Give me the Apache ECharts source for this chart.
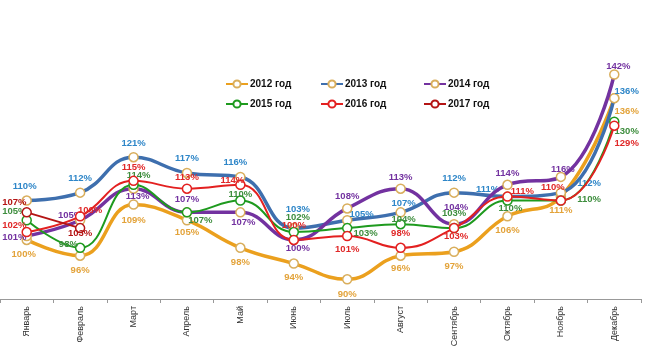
<!DOCTYPE html>
<html><head><meta charset="utf-8">
<script src="https://cdn.jsdelivr.net/npm/echarts@6/dist/echarts.min.js"></script>
<style>html,body{margin:0;padding:0;background:#fff}#c{width:661px;height:360px}</style>
</head><body><div id="c"></div>
<script>
const months = ['Январь','Февраль','Март','Апрель','Май','Июнь','Июль','Август','Сентябрь','Октябрь','Ноябрь','Декабрь'];
const names = ['2012 год','2013 год','2014 год','2015 год','2016 год','2017 год'];
const y2012 = [100, 96, 109, 105, 98, 94, 90, 96, 97, 106, 111, 136];
const y2013 = [110, 112, 121, 117, 116, 103, 105, 107, 112, 111, 112, 136];
const y2014 = [101, 105, 113, 107, 107, 100, 108, 113, 104, 114, 116, 142];
const y2015 = [105, 98, 114, 107, 110, 102, 103, 104, 103, 110, 110, 130];
const y2016 = [102, 106, 115, 113, 114, 100, 101, 98, 103, 111, 110, 129];
const y2017 = [107, 103];

// label placement per point: [position, dx, dy]
const lab2012 = [['bottom',-3,0],['bottom',0,0],['bottom',0,2],['bottom',0,-2],['bottom',0,0],['bottom',0,0],['bottom',0,1],['bottom',0,-2],['bottom',0,0],['bottom',0,0],['bottom',0,0],['right',-9,13]];
const lab2013 = [['top',-2,0],['top',0,0],['top',0,0],['top',0,0],['top',-5,0],['top',4,-4],['right',-7,-6],['top',3,5],['top',0,0],['left',1,-7],['right',7,-9],['right',-9,-7]];
const lab2014 = [['left',9,1],['top',-10,9],['bottom',4,-7],['top',0,1],['bottom',3,-4],['bottom',4,-6],['top',0,2],['top',0,3],['top',2,-3],['top',0,3],['top',2,7],['top',4,6]];
const lab2015 = [['left',9,-9],['left',7,-3],['top',5,5],['right',-8,8],['top',0,8],['top',4,0],['right',-3,5],['top',3,9],['top',0,0],['bottom',3,-6],['right',7,-1],['right',-9,10]];
const lab2016 = [['left',9,-7],['top',10,8],['top',0,1],['top',0,3],['top',-8,10],['top',0,0],['bottom',0,-1],['top',0,0],['bottom',2,-6],['right',-6,-5],['top',-8,1],['right',-9,18]];
const lab2017 = [['left',9,-10],['bottom',0,-9]];

const lineColors = ['#EBA01E','#3E6FAE','#7332A0','#1E9A1E','#E32020','#B41414'];
const labelColors = ['#E3A33A','#2E86C8','#7332A0','#3E8E3E','#E02828','#B41414'];
const markerColors = ['#D9AE5C','#D9AE5C','#D9AE5C','#1E9A1E','#E32020','#B41414'];
const widths = [3.5,3.5,3.5,2,2,2];

const all = [y2012,y2013,y2014,y2015,y2016,y2017];
const labs = [lab2012,lab2013,lab2014,lab2015,lab2016,lab2017];

const series = all.map((arr,i)=>({
  name: names[i],
  type: 'line',
  smooth: 0.45,
  symbol: 'circle',
  symbolSize: 9,
  z: 2 + i,
  lineStyle: {color: lineColors[i], width: widths[i]},
  itemStyle: {color: '#fff', borderColor: markerColors[i], borderWidth: 1.5},
  label: {
    show: true, formatter: '{c}%', color: labelColors[i],
    fontFamily: 'Liberation Sans, Arial', fontWeight: 'bold', fontSize: 9.5, distance: 4
  },
  data: arr.map((v,j)=>({value: v, label: {position: labs[i][j][0], offset: [labs[i][j][1], labs[i][j][2]]}}))
}));

const legendLefts = [220, 315, 418];
const legendTops = [74, 94];
const legends = names.map((n,i)=>({
  left: legendLefts[i%3], top: legendTops[Math.floor(i/3)],
  itemWidth: 22, itemHeight: 9, selectedMode: false,
  textStyle: {fontFamily: 'Liberation Sans, Arial', fontWeight: 'bold', fontSize: 10, color: '#111', padding: [0,0,0,-3]},
  data: [n]
}));

const chart = echarts.init(document.getElementById('c'));
chart.setOption({
  animation: false,
  backgroundColor: '#fff',
  legend: legends,
  grid: {left: 0, right: 20, top: 43, bottom: 61},
  xAxis: {
    type: 'category', data: months, boundaryGap: true,
    axisLine: {lineStyle: {color: '#999', width: 1}},
    axisTick: {show: true, length: 4, lineStyle: {color: '#999'}},
    axisLabel: {rotate: 90, color: '#333', fontFamily: 'Liberation Sans, Arial', fontSize: 9, margin: 7}
  },
  yAxis: {
    type: 'value', min: 85, max: 150, show: false, splitLine: {show: false}
  },
  series: series
});
</script></body></html>
